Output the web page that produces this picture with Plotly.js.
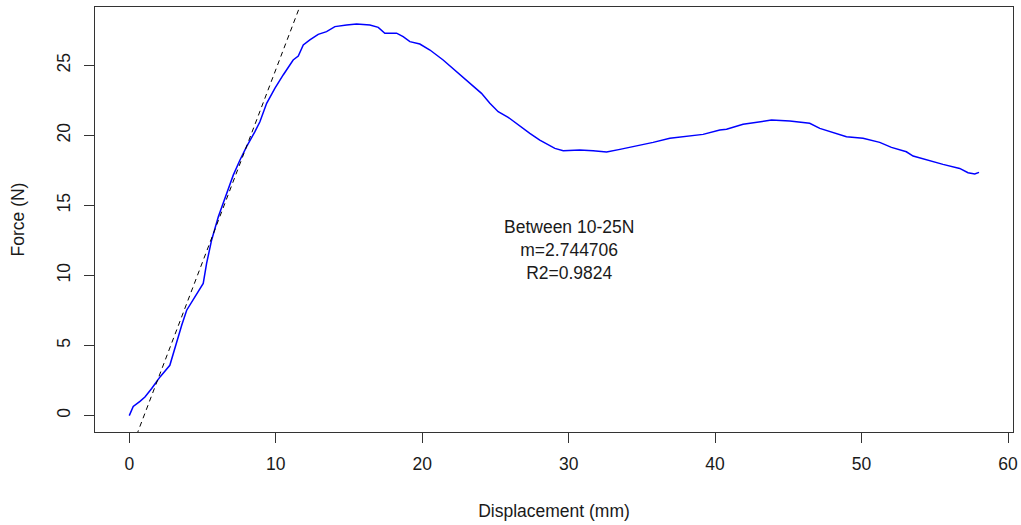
<!DOCTYPE html>
<html>
<head>
<meta charset="utf-8">
<script src="https://cdn.plot.ly/plotly-3.0.1.min.js"></script>
<style>
  html, body { margin: 0; padding: 0; background: #fff; }
  #chart { width: 1021px; height: 525px; }
</style>
</head>
<body>
<div id="chart"></div>
<script>
// Force-displacement curve
var displacement = [0, 0.27, 0.73, 1.07, 1.53, 2.10, 2.77, 3.12, 3.58, 3.92, 4.48, 5.05, 5.28, 5.62, 6.08, 6.53,
  7.10, 7.56, 8.01, 8.58, 8.92, 9.38, 9.94, 10.51, 10.97, 11.19, 11.54, 11.88, 12.33, 12.90, 13.47, 14.04,
  14.84, 15.52, 16.43, 17.00, 17.45, 18.25, 18.70, 19.16, 19.84, 20.53, 21.43, 22.35, 23.26, 24.05, 24.62,
  25.19, 25.87, 26.55, 27.35, 28.03, 28.60, 29.06, 29.63, 30.76, 31.67, 32.59, 33.50, 34.63, 35.77, 36.91,
  38.05, 39.18, 40.32, 40.78, 41.91, 42.83, 43.85, 45.10, 46.46, 47.15, 48.05, 48.97, 50.10, 51.24, 52.04,
  53.06, 53.52, 54.43, 55.56, 56.70, 57.27, 57.73, 58.02];
var force = [0.0, 0.66, 1.02, 1.33, 1.93, 2.76, 3.59, 4.90, 6.45, 7.52, 8.47, 9.43, 10.86, 12.52, 14.19, 15.50,
  17.16, 18.24, 19.19, 20.26, 20.97, 22.29, 23.36, 24.31, 25.02, 25.38, 25.66, 26.45, 26.81, 27.21, 27.40, 27.76,
  27.88, 27.95, 27.88, 27.71, 27.29, 27.29, 27.04, 26.69, 26.52, 26.09, 25.38, 24.54, 23.71, 23.00, 22.29,
  21.69, 21.29, 20.74, 20.14, 19.66, 19.31, 19.07, 18.90, 18.95, 18.90, 18.81, 19.00, 19.24, 19.50, 19.79,
  19.95, 20.07, 20.38, 20.43, 20.79, 20.93, 21.09, 21.02, 20.86, 20.50, 20.19, 19.90, 19.79, 19.50, 19.14,
  18.83, 18.52, 18.24, 17.93, 17.64, 17.33, 17.24, 17.36];

// Linear fit between 10-25 N
var fitSlope = 2.744706;
var fitIntercept = -2.77;
var fitR2 = 0.9824;

var xRange = [-2.34, 60.34];
var yRange = [-1.17, 29.16];
var xTicks = [0, 10, 20, 30, 40, 50, 60];
var yTicks = [0, 5, 10, 15, 20, 25];

var fitX = xRange.slice();
var fitY = fitX.map(function (x) { return fitSlope * x + fitIntercept; });

var FONT = 'Liberation Sans, Arial, sans-serif';
var TXT = '#1a1a1a';

var traces = [
  {
    x: displacement, y: force, type: 'scatter', mode: 'lines',
    line: { color: '#0000ff', width: 1.5 }, hoverinfo: 'skip'
  },
  {
    x: fitX, y: fitY, type: 'scatter', mode: 'lines',
    line: { color: '#000000', width: 1, dash: '5px,4px' }, hoverinfo: 'skip'
  }
];

var layout = {
  width: 1021, height: 525,
  margin: { l: 95, r: 8, t: 7, b: 93 },
  paper_bgcolor: '#ffffff', plot_bgcolor: '#ffffff',
  showlegend: false,
  font: { family: FONT, size: 17.5, color: TXT },
  xaxis: {
    range: xRange, tickvals: xTicks, ticktext: xTicks.map(String),
    showgrid: false, zeroline: false,
    showline: true, mirror: true, linecolor: '#333', linewidth: 1,
    ticks: 'outside', ticklen: 10, tickcolor: '#333', tickwidth: 1,
    ticklabelstandoff: 6,
    tickfont: { family: FONT, size: 17.5, color: TXT },
    title: { text: 'Displacement (mm)', font: { family: FONT, size: 17.5, color: TXT }, standoff: 31 },
    automargin: false
  },
  yaxis: {
    range: yRange, tickvals: yTicks, ticktext: yTicks.map(String),
    showgrid: false, zeroline: false,
    showline: true, mirror: true, linecolor: '#333', linewidth: 1,
    ticks: 'outside', ticklen: 10, tickcolor: '#333', tickwidth: 1,
    tickangle: -90,
    ticklabelstandoff: 7,
    tickfont: { family: FONT, size: 17.5, color: TXT },
    title: { text: 'Force (N)', font: { family: FONT, size: 17.5, color: TXT }, standoff: 24 },
    automargin: false
  },
  annotations: [
    {
      x: 30, y: 11.8, xref: 'x', yref: 'y',
      text: 'Between 10-25N<br>m=' + fitSlope + '<br>R2=' + fitR2,
      showarrow: false, align: 'center', xanchor: 'center', yanchor: 'middle',
      font: { family: FONT, size: 17.5, color: TXT }
    }
  ]
};

Plotly.newPlot('chart', traces, layout, { staticPlot: true, displayModeBar: false });
</script>
</body>
</html>
